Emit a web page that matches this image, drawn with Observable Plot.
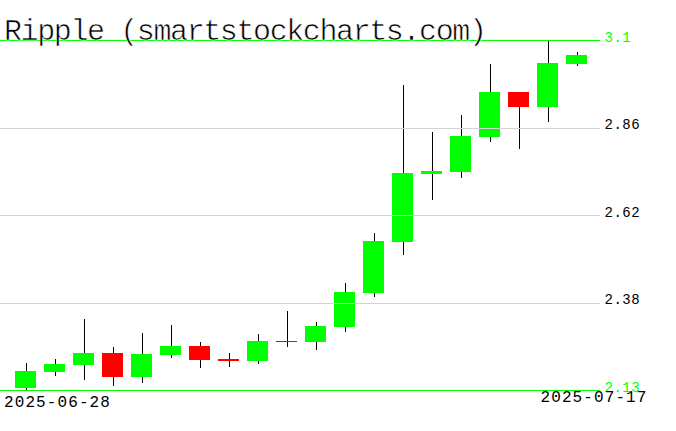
<!DOCTYPE html>
<html><head><meta charset="utf-8">
<script src="https://cdn.jsdelivr.net/npm/d3@7"></script>
<script src="https://cdn.jsdelivr.net/npm/@observablehq/plot@0.6"></script>
<style>
html,body{margin:0;padding:0;background:#fff;}
</style>
</head><body><div id="chart"></div>
<script>
const title = "Ripple (smartstockcharts.com)";
const dates = ["2025-06-28","2025-06-29","2025-06-30","2025-07-01","2025-07-02","2025-07-03","2025-07-04","2025-07-05","2025-07-06","2025-07-07",
               "2025-07-08","2025-07-09","2025-07-10","2025-07-11","2025-07-12","2025-07-13","2025-07-14","2025-07-15","2025-07-16","2025-07-17"];
const open  = [2.136, 2.181, 2.200, 2.233, 2.167, 2.227, 2.252, 2.216, 2.210, 2.266, 2.263, 2.305, 2.399, 2.540, 2.729, 2.734, 2.831, 2.956, 2.914, 3.034];
const close = [2.183, 2.202, 2.233, 2.167, 2.230, 2.252, 2.213, 2.210, 2.266, 2.263, 2.307, 2.402, 2.543, 2.731, 2.737, 2.834, 2.956, 2.914, 3.036, 3.058];
const high  = [2.206, 2.216, 2.327, 2.249, 2.288, 2.310, 2.263, 2.233, 2.285, 2.349, 2.318, 2.427, 2.565, 2.975, 2.845, 2.892, 3.034, 2.957, 3.100, 3.067];
const low   = [2.130, 2.170, 2.158, 2.142, 2.150, 2.220, 2.192, 2.195, 2.203, 2.249, 2.241, 2.291, 2.388, 2.504, 2.657, 2.718, 2.817, 2.798, 2.873, 3.028];
const yTickLabels = ["2.13", "2.38", "2.62", "2.86", "3.1"];
const yMin = 2.13, yMax = 3.1;

const green = "#00ff00", red = "#ff0000", grid = "#d3d3d3";
const candles = dates.map((date, i) => ({date, open: open[i], high: high[i], low: low[i], close: close[i]}));
const tickValues = yTickLabels.map((_, i) => yMin + (yMax - yMin) * i / (yTickLabels.length - 1));
const edgeTicks = [tickValues[0], tickValues[tickValues.length - 1]];
const innerTicks = tickValues.slice(1, -1);
const labelOf = v => yTickLabels[tickValues.indexOf(v)];
const font = "'Liberation Mono', 'DejaVu Sans Mono', monospace";

const chart = Plot.plot({
  width: 676, height: 431,
  marginTop: 40, marginBottom: 41, marginLeft: 0, marginRight: 76,
  style: {background: "#fff", fontFamily: font, overflow: "visible"},
  x: {type: "band", domain: dates, range: [1.5, 599.5], padding: 0.29, axis: null},
  y: {domain: [yMin, yMax], axis: null, label: null},
  color: {type: "identity"},
  marks: [
    Plot.ruleX(candles, {x: "date", y1: "low", y2: "high", stroke: "black", shapeRendering: "crispEdges"}),
    Plot.barY(candles, {x: "date", y1: "open", y2: "close", fill: d => d.close >= d.open ? green : red, shapeRendering: "crispEdges"}),
    Plot.ruleY(innerTicks, {stroke: grid, shapeRendering: "crispEdges"}),
    Plot.ruleY(edgeTicks, {stroke: green, shapeRendering: "crispEdges"}),
    Plot.axisY(innerTicks, {anchor: "right", tickSize: 0, tickPadding: 4, tickFormat: labelOf, textAnchor: "start", lineAnchor: "bottom", dy: 1, fontSize: 14, fill: "black", label: null}),
    Plot.axisY(edgeTicks, {anchor: "right", tickSize: 0, tickPadding: 4, tickFormat: labelOf, textAnchor: "start", lineAnchor: "bottom", dy: 1, fontSize: 14, fill: green, label: null}),
    Plot.text([title], {frameAnchor: "top-left", text: d => d, textAnchor: "start", lineAnchor: "bottom", dx: 3.5, dy: -1, fontSize: 30, fill: "black", stroke: "white", strokeWidth: 0.6, paintOrder: "fill"}),
    Plot.text([dates[0]], {frameAnchor: "bottom-left", text: d => d, textAnchor: "start", lineAnchor: "bottom", dx: 3.5, dy: 16, fontSize: 16, fill: "black"}),
    Plot.text([dates[dates.length - 1]], {frameAnchor: "bottom-right", text: d => d, textAnchor: "end", lineAnchor: "bottom", dx: 47, dy: 11, fontSize: 16, fill: "black"})
  ]
});
// letter spacing tweaks to match the reference's wide/narrow lettering
d3.select(chart).selectAll("text").each(function() {
  const t = this.textContent;
  if (t === title) this.style.letterSpacing = "-1.4px";
  else if (t === dates[0] || t === dates[dates.length - 1]) this.style.letterSpacing = "1.1px";
  else if (yTickLabels.includes(t)) this.style.letterSpacing = "0.5px";
});
document.getElementById("chart").append(chart);
</script>
</body></html>
